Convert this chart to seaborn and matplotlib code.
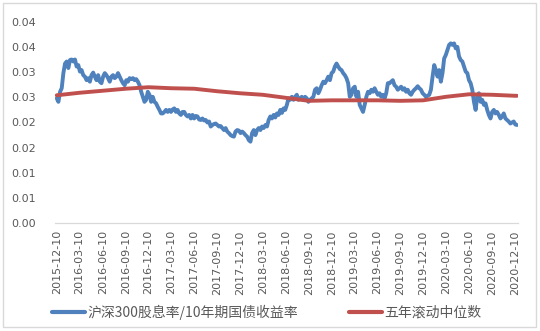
import numpy as np
import pandas as pd
import matplotlib
matplotlib.use("Agg")
import matplotlib.pyplot as plt
from matplotlib.patches import Rectangle
from matplotlib.font_manager import FontProperties
import seaborn as sns

# Quarterly category labels on the x axis
tick_dates = [
    "2015-12-10", "2016-03-10", "2016-06-10", "2016-09-10", "2016-12-10",
    "2017-03-10", "2017-06-10", "2017-09-10", "2017-12-10", "2018-03-10",
    "2018-06-10", "2018-09-10", "2018-12-10", "2019-03-10", "2019-06-10",
    "2019-09-10", "2019-12-10", "2020-03-10", "2020-06-10", "2020-09-10",
    "2020-12-10",
]
y_ticks = [0.0, 0.005, 0.01, 0.015, 0.02, 0.025, 0.03, 0.035, 0.04]
y_tick_labels = ["0.00", "0.01", "0.01", "0.02", "0.02", "0.03", "0.03", "0.04", "0.04"]

start_date = "2015-12-10"
end_date = "2020-12-18"

# CSI 300 dividend yield / 10y government bond yield (roughly weekly)
ratio = [
    0.0248, 0.0241, 0.0261, 0.0268, 0.0298, 0.0317, 0.0321, 0.0308, 0.0324, 0.0325,
    0.0321, 0.0325, 0.0311, 0.0314, 0.0301, 0.0304, 0.0294, 0.0291, 0.0284, 0.0288,
    0.0281, 0.0294, 0.0299, 0.0291, 0.0284, 0.0294, 0.0281, 0.0278, 0.0291, 0.0298,
    0.0294, 0.0288, 0.0281, 0.0291, 0.0294, 0.0288, 0.0291,
    0.0298, 0.0291, 0.0284, 0.0278, 0.0274, 0.0284, 0.0281, 0.0288, 0.0286, 0.0288,
    0.0284, 0.0286, 0.0281, 0.0274, 0.0261, 0.0251, 0.0241, 0.0245, 0.0261, 0.0255,
    0.0241, 0.0251, 0.0241, 0.0238, 0.0231, 0.0225, 0.0218, 0.0218, 0.0221, 0.0225,
    0.0221, 0.0225, 0.0221, 0.0226, 0.0228, 0.0221, 0.0225, 0.0218, 0.0215, 0.0221,
    0.0221,
    0.0215, 0.0212, 0.0215, 0.0208, 0.0215, 0.0208, 0.0213, 0.0212, 0.0206, 0.0205,
    0.0208, 0.0204, 0.0205, 0.0200, 0.0202, 0.0192, 0.0195, 0.0197, 0.0198, 0.0195,
    0.0192, 0.0193, 0.0189, 0.0185, 0.0189, 0.0182, 0.0179, 0.0175, 0.0173, 0.0172,
    0.0182, 0.0185, 0.0184, 0.0179, 0.0182, 0.0179, 0.0175, 0.0172, 0.0165, 0.0162,
    0.0179,
    0.0185, 0.0175, 0.0185, 0.0189, 0.0185, 0.0192, 0.0189, 0.0195, 0.0192, 0.0205,
    0.0212, 0.0208, 0.0215, 0.0210, 0.0218, 0.0215, 0.0225, 0.0219, 0.0228, 0.0225,
    0.0235, 0.0248, 0.0245, 0.0251, 0.0245, 0.0251, 0.0255, 0.0245, 0.0248, 0.0251,
    0.0245, 0.0251, 0.0248, 0.0241, 0.0245, 0.0248, 0.0251, 0.0265, 0.0268, 0.0258,
    0.0265,
    0.0274, 0.0281, 0.0278, 0.0284, 0.0291, 0.0284, 0.0298, 0.0301, 0.0311, 0.0317,
    0.0311, 0.0306, 0.0304, 0.0298, 0.0294, 0.0288, 0.0278, 0.0251, 0.0255, 0.0268,
    0.0271, 0.0251, 0.0261, 0.0235, 0.0228, 0.0221, 0.0235, 0.0251, 0.0261, 0.0258,
    0.0265, 0.0261, 0.0268, 0.0261, 0.0255, 0.0258, 0.0251, 0.0255, 0.0248, 0.0258,
    0.0278,
    0.0278, 0.0281, 0.0284, 0.0274, 0.0271, 0.0265, 0.0268, 0.0271, 0.0265, 0.0268,
    0.0261, 0.0265, 0.0258, 0.0255, 0.0261, 0.0265, 0.0268, 0.0272, 0.0268, 0.0265,
    0.0258, 0.0255, 0.0251, 0.0253, 0.0255, 0.0265, 0.0291, 0.0314, 0.0304, 0.0291,
    0.0304, 0.0281, 0.0298, 0.0327, 0.0334, 0.0344, 0.0354, 0.0357, 0.0354, 0.0357,
    0.0347,
    0.0350, 0.0331, 0.0324, 0.0321, 0.0311, 0.0301, 0.0298, 0.0284, 0.0278, 0.0265,
    0.0241, 0.0225, 0.0251, 0.0258, 0.0241, 0.0245, 0.0235, 0.0238, 0.0225, 0.0215,
    0.0208, 0.0221, 0.0225, 0.0218, 0.0221, 0.0215, 0.0208, 0.0212, 0.0218, 0.0208,
    0.0205, 0.0202, 0.0198, 0.0200, 0.0202, 0.0196, 0.0195,
]

# Five-year rolling median, sampled at each quarter label plus the last date
median_dates = tick_dates + [end_date]
median_5y = [
    0.0254, 0.0259, 0.0263, 0.0267, 0.0270, 0.0268, 0.0267, 0.0262, 0.0258, 0.0255,
    0.0249, 0.0243, 0.0244, 0.0244, 0.0244, 0.0243, 0.0244, 0.0251, 0.0256, 0.0255,
    0.0253, 0.0253,
]

label_ratio = "沪深300股息率/10年期国债收益率"
label_median = "五年滚动中位数"

ratio_df = pd.DataFrame({
    "date": pd.date_range(start_date, end_date, periods=len(ratio)),
    "value": ratio,
})
median_df = pd.DataFrame({"date": pd.to_datetime(median_dates), "value": median_5y})

sns.set_theme(style="white")
plt.rcParams["font.family"] = ["DejaVu Sans"]

fig = plt.figure(figsize=(5.4, 3.31), dpi=100)
ax = fig.add_axes([55 / 540, 1 - 223.3 / 331, (518 - 55) / 540, (223.3 - 21.7) / 331])

sns.lineplot(data=ratio_df, x="date", y="value", ax=ax, color="#4F81BD",
             linewidth=2.8, label=label_ratio)
sns.lineplot(data=median_df, x="date", y="value", ax=ax, color="#C0504D",
             linewidth=2.8, label=label_median)

ax.set_ylim(0, 0.04)
ax.set_xlim(pd.Timestamp("2015-12-03"), pd.Timestamp("2020-12-22"))
ax.set_yticks(y_ticks)
ax.set_yticklabels(y_tick_labels)
ax.set_xticks(pd.to_datetime(tick_dates))
ax.set_xticklabels(tick_dates, rotation=90)
ax.tick_params(axis="both", length=0, labelsize=8, labelcolor="#595959")
ax.tick_params(axis="x", pad=5)
ax.tick_params(axis="y", pad=14)
ax.set_xlabel("")
ax.set_ylabel("")
for side in ("top", "right", "left"):
    ax.spines[side].set_visible(False)
ax.spines["bottom"].set_color("#d9d9d9")
ax.spines["bottom"].set_linewidth(0.9)
ax.grid(False)

handles, labels = ax.get_legend_handles_labels()
ax.get_legend().remove()
leg = fig.legend(handles, labels, loc="center", bbox_to_anchor=(0.494, 0.057),
                 ncol=2, frameon=False, handlelength=2.4, columnspacing=3.6,
                 handletextpad=0.2,
                 prop=FontProperties(family=["Noto Sans CJK SC", "DejaVu Sans"], size=10))
for t in leg.get_texts():
    t.set_color("#595959")
for line in leg.get_lines():
    line.set_linewidth(3.0)

fig.patches.append(Rectangle((3 / 540, 4 / 331), 533 / 540, 324 / 331,
                             transform=fig.transFigure, fill=False,
                             edgecolor="#d9d9d9", linewidth=1.0))

fig.savefig("out.png", dpi=100)
